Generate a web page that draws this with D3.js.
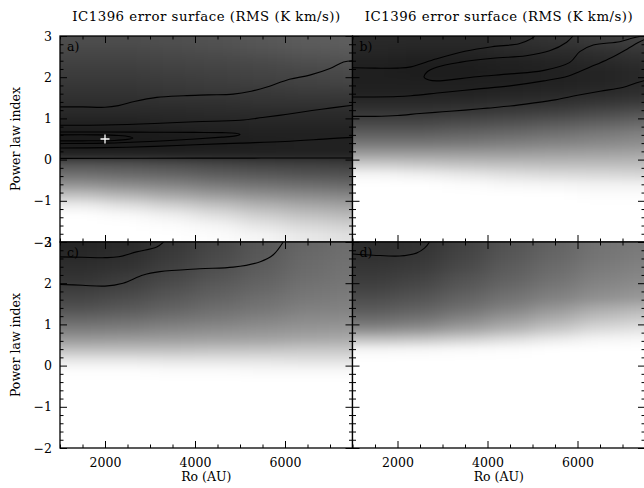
<!DOCTYPE html>
<html><head><meta charset="utf-8">
<script src="https://cdn.jsdelivr.net/npm/d3@7"></script>
<style>
body{margin:0;background:#fff}
svg{display:block}
text{font-family:"DejaVu Serif",serif;fill:#000}
</style>
</head><body>
<svg id="chart" width="644" height="488"></svg>
<script>
// ---------- data ----------
const titleText = "IC1396 error surface (RMS (K km/s))";
const xLabel = "Ro (AU)";
const yLabel = "Power law index";
const roTickLabels = [2000, 4000, 6000];
const indexTickLabels = [-2, -1, 0, 1, 2, 3];
const roDomain = [1000, 7500];
const indexDomain = [-2, 3];
// cell edges of the error-surface grid
const roEdges = [1000, 2000, 3000, 4000, 5000, 6000, 7000, 7500];
const indexEdges = [3, 2.75, 2.5, 2.25, 2, 1.75, 1.5, 1.25, 1, 0.75, 0.5, 0.25, 0,
  -0.25, -0.5, -0.75, -1, -1.25, -1.5, -1.75, -2];
// relative RMS (0 = best fit / black, 100 = saturated / white), rows top->bottom
const gridA = [
  [30,30,31,32,34,36,37],
  [28,28,29,30,32,34,35],
  [26,26,27,28,29,31,32],
  [24,24,25,26,27,28,29],
  [22,22,23,24,25,26,27],
  [20,20,21,22,22,23,23],
  [18,18,19,19,20,20,20],
  [16,16,16,17,17,17,17],
  [13,13,14,14,15,15,15],
  [10,10,11,12,13,13,13],
  [10,10,10,11,12,13,13],
  [13,13,13,13,13,13,13],
  [33,32,30,28,26,25,24],
  [44,42,40,37,35,33,32],
  [58,55,52,48,45,43,41],
  [76,71,66,61,57,54,52],
  [93,88,82,76,70,66,63],
  [100,98,94,88,81,76,73],
  [100,100,99,96,90,85,82],
  [100,100,100,99,96,91,88]
];
const gridB = [
  [16,16,16,18,20,23,25],
  [15,14,14,16,17,19,21],
  [13,12,12,13,14,16,18],
  [12,11,11,12,13,14,16],
  [12,12,12,12,13,14,16],
  [13,13,13,14,15,16,18],
  [16,16,17,18,19,21,23],
  [21,21,22,24,26,29,32],
  [28,28,30,32,35,38,41],
  [37,37,39,41,44,47,50],
  [47,47,48,50,52,54,56],
  [62,62,62,62,63,64,65],
  [80,78,76,75,74,74,74],
  [96,94,91,88,86,85,84],
  [100,100,99,97,96,95,95],
  [100,100,100,100,100,99,99],
  [100,100,100,100,100,100,100],
  [100,100,100,100,100,100,100],
  [100,100,100,100,100,100,100],
  [100,100,100,100,100,100,100]
];
const gridC = [
  [15,17,22,28,34,40,43],
  [16,18,23,29,35,41,44],
  [18,20,25,31,36,42,45],
  [20,23,28,33,38,43,46],
  [23,26,31,36,40,45,47],
  [27,30,35,39,43,47,49],
  [32,35,39,43,46,50,51],
  [40,42,45,48,51,54,55],
  [49,50,53,55,57,59,60],
  [60,61,62,63,64,66,67],
  [75,75,75,76,77,78,78],
  [90,90,89,89,89,88,88],
  [99,99,98,98,97,97,97],
  [100,100,100,100,100,100,100],
  [100,100,100,100,100,100,100],
  [100,100,100,100,100,100,100],
  [100,100,100,100,100,100,100],
  [100,100,100,100,100,100,100],
  [100,100,100,100,100,100,100],
  [100,100,100,100,100,100,100]
];
const gridD = [
  [18,20,26,33,39,45,48],
  [19,21,27,34,40,46,49],
  [21,23,29,36,42,48,51],
  [23,26,32,38,44,50,53],
  [26,29,35,41,47,53,56],
  [30,33,39,45,51,57,60],
  [35,38,44,51,59,67,71],
  [42,45,52,60,68,76,80],
  [54,57,63,70,78,86,89],
  [76,78,82,87,92,96,97],
  [96,97,98,99,100,100,100],
  [100,100,100,100,100,100,100],
  [100,100,100,100,100,100,100],
  [100,100,100,100,100,100,100],
  [100,100,100,100,100,100,100],
  [100,100,100,100,100,100,100],
  [100,100,100,100,100,100,100],
  [100,100,100,100,100,100,100],
  [100,100,100,100,100,100,100],
  [100,100,100,100,100,100,100]
];
// contour lines [Ro (AU), power law index]
const contoursA = [
  [[1000,0.60],[1800,0.60],[2300,0.585],[2550,0.555],[2620,0.525],[2500,0.49],[2200,0.465],[1500,0.455],[1000,0.455]],
  [[1000,0.67],[2000,0.67],[3000,0.665],[4000,0.66],[4600,0.655],[4900,0.64],[5000,0.61],[4900,0.575],[4600,0.545],[4000,0.50],[3000,0.44],[2000,0.40],[1000,0.39]],
  [[1000,0.835],[2000,0.84],[3100,0.875],[4000,0.92],[5000,0.955],[5500,1.02],[6050,1.10],[6600,1.19],[7000,1.25],[7500,1.32]],
  [[1000,0.28],[2000,0.29],[3100,0.32],[4000,0.36],[5000,0.40],[6000,0.44],[7000,0.51],[7500,0.54]],
  [[1000,1.28],[1500,1.28],[2000,1.27],[2300,1.31],[2650,1.41],[3150,1.51],[3750,1.55],[4300,1.57],[4850,1.59],[5250,1.66],[5600,1.76],[6100,1.95],[6550,2.05],[7000,2.21],[7300,2.37],[7500,2.40]],
  [[1000,0.03],[4000,0.035],[7500,0.04]]
];
const contoursB = [
  [[5900,3.0],[5760,2.85],[5380,2.64],[4860,2.52],[4120,2.46],[3380,2.36],[2870,2.24],[2650,2.12],[2590,2.0],[2700,1.93],[2870,1.91],[3750,2.01],[4500,2.08],[5230,2.16],[5830,2.36],[6050,2.62],[6350,2.78],[6940,2.86],[7230,2.95],[7450,3.0]],
  [[1000,2.23],[1500,2.22],[2000,2.22],[2300,2.25],[2850,2.44],[3500,2.63],[4100,2.74],[4700,2.81],[4950,2.92],[5050,3.0]],
  [[1000,1.52],[1500,1.52],[2000,1.53],[2300,1.55],[3000,1.63],[3750,1.71],[4500,1.79],[5250,1.91],[5800,2.03],[6050,2.14],[6400,2.30],[6750,2.47],[7100,2.68],[7350,2.84],[7500,2.92]],
  [[1000,1.05],[1500,1.05],[2000,1.07],[2500,1.12],[3000,1.16],[3500,1.20],[4000,1.25],[4500,1.30],[5000,1.37],[5500,1.45],[6000,1.56],[6500,1.66],[7000,1.75],[7300,1.86],[7500,1.92]]
];
const contoursC = [
  [[1000,2.64],[1500,2.63],[2000,2.62],[2300,2.64],[2700,2.76],[3150,2.88],[3300,3.0]],
  [[1000,1.97],[1500,1.95],[2000,1.93],[2400,2.0],[2850,2.2],[3220,2.28],[4100,2.35],[4850,2.39],[5450,2.52],[5740,2.69],[5960,3.0]]
];
const contoursD = [
  [[1000,2.71],[1460,2.68],[2050,2.66],[2420,2.73],[2600,2.85],[2710,3.0]]
];
const bestFit = [2000, 0.5];   // white cross in panel a
const panelNames = ["a)", "b)", "c)", "d)"];

// ---------- layout ----------
const colX = [[60, 352.5], [352.5, 645]];
const rowY = [[36, 242], [242, 448]];
const FONT = 12.5;
const panels = [
  {name: panelNames[0], grid: gridA, contours: contoursA, col: 0, row: 0, cross: bestFit},
  {name: panelNames[1], grid: gridB, contours: contoursB, col: 1, row: 0},
  {name: panelNames[2], grid: gridC, contours: contoursC, col: 0, row: 1},
  {name: panelNames[3], grid: gridD, contours: contoursD, col: 1, row: 1}
];

const svg = d3.select("#chart");
const defs = svg.append("defs");
const filt = defs.append("filter").attr("id", "smooth")
  .attr("filterUnits", "userSpaceOnUse")
  .attr("x", -200).attr("y", -200).attr("width", 1100).attr("height", 900)
  .attr("color-interpolation-filters", "sRGB");
filt.append("feGaussianBlur").attr("stdDeviation", "14 4");

const shade = d3.scaleLinear().domain([0, 100]).range(["#000000", "#ffffff"]).clamp(true);
const majorRo = roTickLabels;
const minorRo = d3.range(1000, 7501, 500).filter(v => !majorRo.includes(v));
const majorIdx = indexTickLabels;
const minorIdx = d3.range(-2, 3.001, 0.2).map(v => Math.round(v * 10) / 10).filter(v => !majorIdx.includes(v));

panels.forEach((p, i) => {
  const [x0, x1] = colX[p.col];
  const [y0, y1] = rowY[p.row];
  const x = d3.scaleLinear().domain(roDomain).range([x0, x1]);
  const y = d3.scaleLinear().domain(indexDomain).range([y1, y0]);
  const clipId = "clip" + i;
  defs.append("clipPath").attr("id", clipId)
    .append("rect").attr("x", x0).attr("y", y0).attr("width", x1 - x0).attr("height", y1 - y0);

  const g = svg.append("g").attr("clip-path", `url(#${clipId})`);
  const img = g.append("g").attr("filter", "url(#smooth)");
  const cells = [];
  p.grid.forEach((rowVals, r) => rowVals.forEach((v, c) => cells.push({r, c, v})));
  const nR = p.grid.length, nC = p.grid[0].length;
  img.selectAll("rect").data(cells).join("rect")
    .attr("x", d => x(roEdges[d.c]) - (d.c === 0 ? 60 : 0.5))
    .attr("width", d => x(roEdges[d.c + 1]) - x(roEdges[d.c]) + (d.c === 0 ? 60 : 0.5) + (d.c === nC - 1 ? 60 : 0.5))
    .attr("y", d => y(indexEdges[d.r]) - (d.r === 0 ? 30 : 0.5))
    .attr("height", d => y(indexEdges[d.r + 1]) - y(indexEdges[d.r]) + (d.r === 0 ? 30 : 0.5) + (d.r === nR - 1 ? 30 : 0.5))
    .attr("fill", d => shade(d.v));

  const line = d3.line().x(d => x(d[0])).y(d => y(d[1])).curve(d3.curveCatmullRom.alpha(0.5));
  g.selectAll("path.ct").data(p.contours).join("path").attr("class", "ct")
    .attr("d", line).attr("fill", "none").attr("stroke", "#000").attr("stroke-width", 1.1);

  if (p.cross) {
    const cx = x(p.cross[0]), cy = y(p.cross[1]);
    g.append("path").attr("d", `M${cx - 4.5},${cy}h9M${cx},${cy - 4.5}v9`)
      .attr("stroke", "#fff").attr("stroke-width", 1.3);
  }

  // axes (ticks inward on all four sides)
  const fmt = d3.format("d");
  const ax = (axis, tr) => {
    const a = svg.append("g").attr("transform", tr).call(axis);
    a.select(".domain").remove();
    a.attr("font-family", "DejaVu Serif, serif").attr("font-size", FONT);
    a.selectAll("line").attr("stroke-width", 1);
    return a;
  };
  // bottom
  ax(d3.axisBottom(x).tickValues(majorRo).tickSize(-7).tickSizeOuter(0).tickPadding(10.5)
      .tickFormat(p.row === 1 ? fmt : () => ""), `translate(0,${y1})`);
  ax(d3.axisBottom(x).tickValues(minorRo).tickSize(-3.5).tickSizeOuter(0).tickFormat(() => ""), `translate(0,${y1})`);
  // top
  ax(d3.axisTop(x).tickValues(majorRo).tickSize(-7).tickSizeOuter(0).tickFormat(() => ""), `translate(0,${y0})`);
  ax(d3.axisTop(x).tickValues(minorRo).tickSize(-3.5).tickSizeOuter(0).tickFormat(() => ""), `translate(0,${y0})`);
  // left
  ax(d3.axisLeft(y).tickValues(majorIdx).tickSize(-7).tickSizeOuter(0).tickPadding(8)
      .tickFormat(p.col === 0 ? (v => (v < 0 ? "\u2212" : "") + Math.abs(v)) : () => ""), `translate(${x0},0)`);
  ax(d3.axisLeft(y).tickValues(minorIdx).tickSize(-3.5).tickSizeOuter(0).tickFormat(() => ""), `translate(${x0},0)`);
  // right
  ax(d3.axisRight(y).tickValues(majorIdx).tickSize(-7).tickSizeOuter(0).tickFormat(() => ""), `translate(${x1},0)`);
  ax(d3.axisRight(y).tickValues(minorIdx).tickSize(-3.5).tickSizeOuter(0).tickFormat(() => ""), `translate(${x1},0)`);

  // frame
  svg.append("rect").attr("x", x0).attr("y", y0).attr("width", x1 - x0).attr("height", y1 - y0)
    .attr("fill", "none").attr("stroke", "#000").attr("stroke-width", 1.3);

  // panel letter
  svg.append("text").attr("x", x0 + 7).attr("y", y0 + 15).attr("font-size", FONT).text(p.name);

  // titles / axis labels
  const cxp = (x0 + x1) / 2, cyp = (y0 + y1) / 2;
  if (p.row === 0) {
    svg.append("text").attr("x", cxp).attr("y", 20.5).attr("text-anchor", "middle")
      .attr("font-size", 13.3).attr("textLength", 268).attr("lengthAdjust", "spacing")
      .text(titleText);
  }
  if (p.row === 1) {
    svg.append("text").attr("x", cxp).attr("y", 481).attr("text-anchor", "middle")
      .attr("font-size", FONT).text(xLabel);
  }
  if (p.col === 0) {
    svg.append("text").attr("transform", `translate(20,${cyp}) rotate(-90)`)
      .attr("text-anchor", "middle").attr("font-size", FONT).text(yLabel);
  }
});
</script>
</body></html>
